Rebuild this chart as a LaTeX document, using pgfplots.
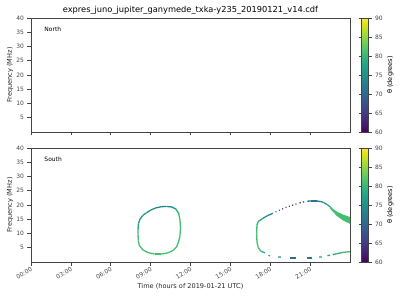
\documentclass[border=0pt]{standalone}
\usepackage{fontspec}
\setmainfont{DejaVu Sans}
\usepackage{pgfplots}
\pgfplotsset{compat=1.18}
\definecolor{vgreen}{HTML}{45BF6F}
\definecolor{axgray}{HTML}{444444}

\pgfplotsset{
  myaxis/.style={
    scale only axis, width=319bp, height=114bp,
    xmin=0, xmax=24, ymin=0, ymax=40,
    xtick={0,3,...,21}, ytick={5,10,...,40},
    tick align=outside, tick pos=left,
    major tick length=3.5bp,
    axis line style={axgray, line width=0.6bp},
    every tick/.style={axgray, line width=0.6bp},
    tick label style={font=\fontsize{6}{7}\selectfont, text=axgray},
    label style={font=\fontsize{6.6}{8}\selectfont, text=black!85},
    /pgf/number format/assume math mode=true,
    ylabel={Frequency (MHz)},
    ylabel style={at={(axis description cs:-0.066,0.5)}, anchor=center, rotate=0},
    colormap/viridis, point meta min=60, point meta max=90,
    colorbar,
    colorbar style={
      width=7bp, at={(parent axis.north east)}, anchor=north west, xshift=3bp,
      ytick={60,65,...,90},
      yticklabel pos=right,
      ylabel={θ (degrees)},
      ylabel style={at={(axis description cs:4.1,0.5)}, anchor=center, rotate=0},
      tick align=outside, major tick length=3bp,
      axis line style={axgray, line width=0.6bp},
      every tick/.style={axgray, line width=0.6bp},
      tick label style={font=\fontsize{6}{7}\selectfont, text=axgray},
      label style={font=\fontsize{6.6}{8}\selectfont},
      /pgf/number format/assume math mode=true,
    },
  },
  seg/.style={mesh, point meta=explicit, line width=1.3bp, forget plot},
}

\pgfplotstableread{
t f c
8.05 10 81
8.06 12 79
8.08 13.5 77
8.2 15 76
8.4 16.3 76
8.7 17.3 76
9.0 18.2 75
9.4 19.0 74
9.8 19.4 74
10.2 19.5 74
10.6 19.3 75
10.9 18.6 77
11.1 17.2 80
11.2 15 81
11.25 12 81
11.2 9 81
11.1 7 81
10.95 5.3 81
10.7 4.1 81
10.3 3.2 81
9.8 2.8 81
9.3 2.8 81
8.8 3.3 81
8.4 4.3 81
8.15 5.8 81
8.07 7.5 81
8.05 10 81
}\loopA

\pgfplotstableread{
t f c
17.6 3.2 79
17.3 3.8 80
17.1 5.0 81
17.0 7 81
16.98 10 81
17.0 13 80
17.1 14.2 78
17.4 15.2 77
17.8 16.3 75
18.2 17.1 72
}\leftB

\pgfplotstableread{
t f c
20.8 21.35 70
21.1 21.4 71
21.5 21.4 72
21.8 21.2 73
22.0 20.9 75
22.3 20.1 77
22.6 19.0 79
}\topB

\pgfplotstableread{
t f c
22.7 2.6 77
23.0 2.9 79
23.4 3.3 80
23.7 3.5 81
24.0 3.6 81
}\botB

\begin{document}
\begin{tikzpicture}
\begin{axis}[myaxis, at={(31bp,168bp)}, anchor=south west,
  xticklabels={},
  title={expres\_juno\_jupiter\_ganymede\_txka-y235\_20190121\_v14.cdf},
  every axis title shift=0pt,
  title style={font=\fontsize{8.3}{10}\selectfont, at={(axis description cs:0.5,1)}, anchor=center, inner sep=0pt, yshift=8bp},
]
\addplot[only marks, mark=none, forget plot] coordinates {(-5,-5)};
\node[anchor=west, inner sep=0pt, font=\fontsize{6}{7}\selectfont] at (axis cs:1.0,36.0) {North};
\end{axis}

\begin{axis}[myaxis, at={(31bp,38bp)}, anchor=south west,
  xticklabels={00:00,03:00,06:00,09:00,12:00,15:00,18:00,21:00},
  xticklabel style={rotate=30, anchor=north east, inner sep=1bp},
  xlabel={Time (hours of 2019-01-21 UTC)},
  xlabel style={at={(axis description cs:0.5,-0.215)}, anchor=center},
]
\addplot[seg] table[x=t, y=f, meta=c] {\loopA};
\addplot[seg] table[x=t, y=f, meta=c] {\leftB};
% dotted upper arc
\addplot[seg] coordinates {(18.40,17.6) [67] (18.47,17.7) [67]};
\addplot[seg] coordinates {(18.65,18.1) [66] (18.72,18.2) [66]};
\addplot[seg] coordinates {(18.90,18.6) [65] (18.97,18.7) [65]};
\addplot[seg] coordinates {(19.15,19.1) [65] (19.22,19.2) [65]};
\addplot[seg] coordinates {(19.40,19.5) [64] (19.47,19.6) [64]};
\addplot[seg] coordinates {(19.65,19.9) [64] (19.72,20.0) [64]};
\addplot[seg] coordinates {(19.90,20.3) [65] (19.97,20.4) [65]};
\addplot[seg] coordinates {(20.20,20.7) [66] (20.30,20.8) [66]};
\addplot[seg] coordinates {(20.45,21.0) [67] (20.55,21.1) [67]};
\addplot[seg] table[x=t, y=f, meta=c] {\topB};
\addplot[fill=vgreen, draw=none, forget plot] coordinates {(22.5,19.4) (23.0,17.7) (23.5,16.6) (24,15.8) (24,13.4) (23.5,14.5) (23.0,16.2) (22.5,18.7)} -- cycle;
% bottom dashed segments
\addplot[seg] coordinates {(17.86,2.3) [77] (17.98,2.2) [77]};
\addplot[seg] coordinates {(18.6,1.75) [75] (18.79,1.7) [75]};
\addplot[seg] coordinates {(19.49,1.4) [71] (19.94,1.4) [71]};
\addplot[seg] coordinates {(20.79,1.4) [72] (21.14,1.4) [72]};
\addplot[seg] coordinates {(21.69,1.7) [75] (21.87,1.8) [75]};
\addplot[seg] coordinates {(22.3,2.2) [77] (22.5,2.4) [77]};
\addplot[seg] table[x=t, y=f, meta=c] {\botB};
\node[anchor=west, inner sep=0pt, font=\fontsize{6}{7}\selectfont] at (axis cs:1.0,36.0) {South};
\end{axis}
\pgfresetboundingbox
\useasboundingbox (0,0) rectangle (400bp,300bp);
\end{tikzpicture}
\end{document}
